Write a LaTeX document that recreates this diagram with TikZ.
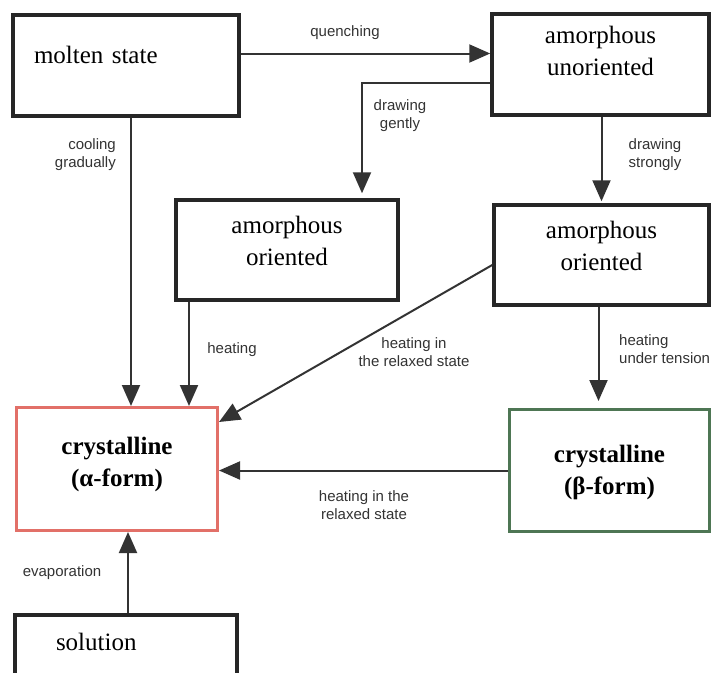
\documentclass[tikz,border=0pt]{standalone}
\usepackage{fontspec}
\setmainfont{Liberation Serif}
\newfontfamily\labelfont{Liberation Sans}
\usepackage{xcolor}
\usepackage{tikz}
\usetikzlibrary{arrows.meta, calc}
\definecolor{alphared}{RGB}{226,112,104}
\definecolor{betagreen}{RGB}{78,118,84}
\tikzstyle{state} = [draw=black!85, line width=3.5pt, rectangle, inner sep=0pt, font=\fontsize{25}{32}\selectfont, align=center, text height=18pt]
\tikzstyle{crystal} = [state, line width=3pt, font=\fontsize{25}{32}\selectfont\bfseries]
\tikzstyle{arrow} = [draw, -{Triangle[length=21pt, width=18pt]}, line width=2pt, black!80]
\tikzstyle{note} = [font=\labelfont\fontsize{15}{18}\selectfont, text=black!80, inner sep=0pt, align=center]
\tikzset{twolines/.style={text height=50pt, text depth=#1}}

\begin{document}
\begin{tikzpicture}[x=1pt, y=-1pt]
    \useasboundingbox (0,0) rectangle (712,672);

    % States
    \node (molten) [state, minimum width=226pt, minimum height=101pt, text width=184pt, align=left, text depth=22pt] at (126,65.5) {molten state};
    \node (unor) [state, minimum width=217pt, minimum height=101pt, twolines=28pt] at (600.5,64.5) {amorphous\\unoriented};
    \node (leftor) [state, minimum width=222pt, minimum height=100pt, twolines=19pt] at (287,250) {amorphous\\oriented};
    \node (rightor) [state, minimum width=215pt, minimum height=100pt, twolines=19pt] at (601.5,255) {amorphous\\oriented};
    \node (alpha) [crystal, draw=alphared, minimum width=201pt, minimum height=123pt, twolines=15pt] at (117,469) {crystalline\\(α-form)};
    \node (beta) [crystal, draw=betagreen, minimum width=200pt, minimum height=122pt, twolines=2pt] at (609.5,470.5) {crystalline\\(β-form)};
    \node (sol) [state, minimum width=222pt, minimum height=70pt, text width=140pt, align=left, text depth=17pt] at (126,650) {solution};

    % Transitions from the melt
    \draw [arrow] ([yshift=12pt]molten.east) -- ([yshift=12pt]molten.east -| unor.west);
    \draw [arrow] ([xshift=5pt]molten.south) -- ([xshift=5pt]molten.south |- alpha.north);

    % Drawing
    \draw [arrow, shorten >=5pt] ([yshift=-18pt]unor.west) -| ([xshift=75pt]leftor.north);
    \draw [arrow, shorten >=2pt] (unor.south -| rightor.north) -- (rightor.north);

    % Heating
    \draw [arrow] ([xshift=-98pt]leftor.south) -- ([xshift=-98pt]leftor.south |- alpha.north);
    \draw [arrow] ([yshift=-10pt]rightor.west) -- ([yshift=47pt]alpha.east);
    \draw [arrow, shorten >=7pt] ([xshift=-3pt]rightor.south) -- ([xshift=-3pt]rightor.south |- beta.north);
    \draw [arrow] (beta.west) -- (beta.west -| alpha.east);

    % Solution
    \draw [arrow] ([xshift=2pt]sol.north) -- ([xshift=2pt]sol.north |- alpha.south);

    % Labels
    \node (lquench) [note] at (345,33) {quenching};
    \node (lgently) [note] at (400,116) {drawing\\gently};
    \node (lcool) [note, anchor=east, align=right] at (116,155) {cooling\\gradually};
    \node (lstrong) [note] at (655,155) {drawing\\strongly};
    \node (lheat) [note] at (232,350) {heating};
    \node (lrelax) [note] at (414,352) {heating in\\the relaxed state};
    \node (ltension) [note, anchor=west, align=left] at (619,349) {heating\\under tension};
    \node (lrelaxb) [note] at (364,505) {heating in the\\relaxed state};
    \node (levap) [note] at (62,573) {evaporation};
\end{tikzpicture}
\end{document}
